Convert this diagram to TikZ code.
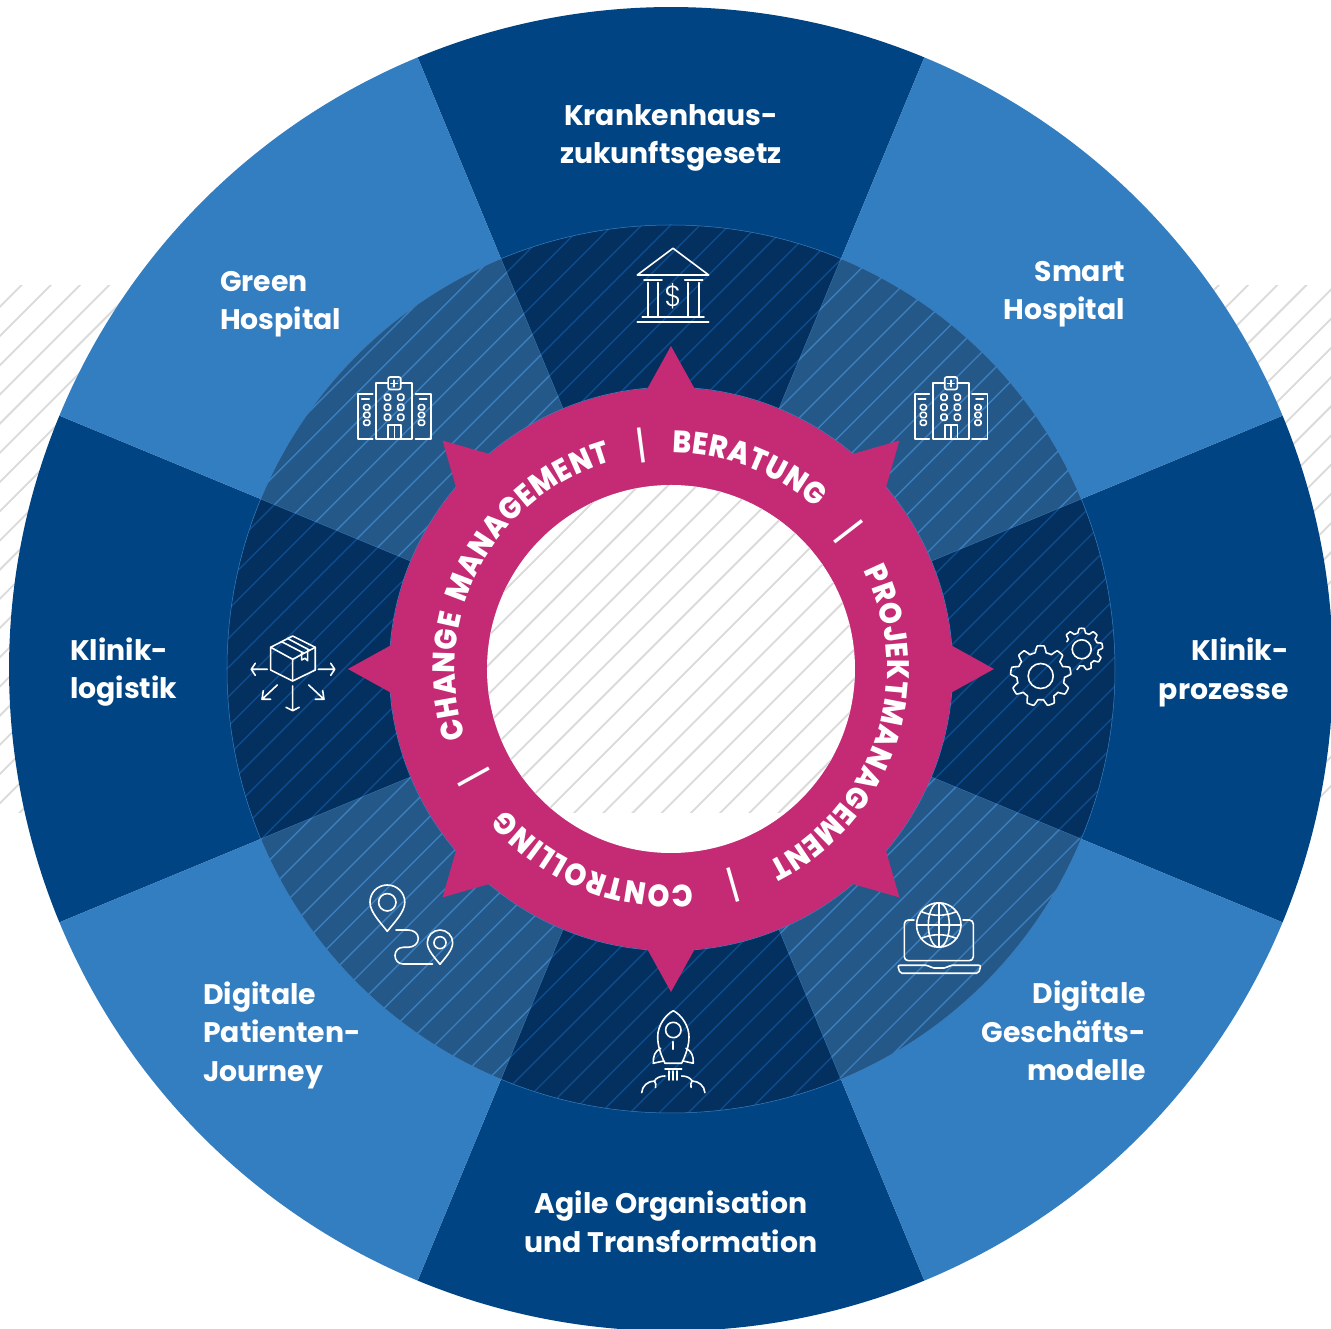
\documentclass[tikz,border=0pt]{standalone}
\usepackage{fontspec}
\usepackage{graphicx}
\newfontfamily\pop{Poppins}
\newfontfamily\popx{Poppins ExtraBold}
\newfontfamily\popl{Poppins Light}
\definecolor{wdark}{HTML}{004483}
\definecolor{wlight}{HTML}{337DC1}
\definecolor{rdark}{HTML}{03305F}
\definecolor{rlight}{HTML}{245888}
\definecolor{hdark}{HTML}{0E4C8E}
\definecolor{hlight}{HTML}{3B7FBE}
\definecolor{pinkc}{HTML}{C42B74}
\definecolor{hgrey}{HTML}{DADADA}
\newcommand{\hatchlines}[1]{\foreach \k in {0,...,63}{\pgfmathsetmacro\cc{#1+29.2*\k}\draw (\cc,0)--({\cc-1329},1329);}}
\newcommand{\sectorpath}[2]{(0,0)--(#1-22.5:#2) arc[start angle=#1-22.5,end angle=#1+22.5,radius=#2]--cycle}
\newcommand{\ringfont}{\popx\fontsize{31}{32}\selectfont}
\newcommand{\xsc}{0.9}
\newcommand{\rbase}{216}
\newbox\ltrbox
\newdimen\wtot
\newcounter{ringl}
\newcommand{\measureltr}[1]{\setbox\ltrbox\hbox{\pgfinterruptpicture\ringfont#1\endpgfinterruptpicture}}
\newcommand{\arcword}[3]{%
 \global\wtot=0pt \gdef\nlet{0}%
 \foreach \L in {#3}{\measureltr{\L}\global\advance\wtot by \wd\ltrbox
   \pgfmathtruncatemacro\nn{\nlet+1}\xdef\nlet{\nn}}%
 \pgfmathsetmacro\arclen{(#1-(#2))*pi/180*\rbase}%
 \pgfmathsetmacro\gapl{(\arclen-\xsc*\the\wtot)/(\nlet-1)}%
 \gdef\spos{0}%
 \foreach \L in {#3}{\measureltr{\L}%
   \pgfmathsetmacro\w{\xsc*\the\wd\ltrbox}%
   \pgfmathsetmacro\ang{#1-(\spos+\w/2)/\rbase*180/pi}%
   \stepcounter{ringl}%
   \node[ringlet,rotate=\ang-90] (rl\arabic{ringl}) at (\ang:\rbase) {\scalebox{\xsc}[1]{\ringfont\L}};
   \pgfmathsetmacro\np{\spos+\w+\gapl}\xdef\spos{\np}}%
}
\newcommand{\hosp}[1]{\begin{scope}[xshift=#1]
\draw[ic] (932.7,389)--(932.7,383.3)--(944.7,383.3) (957.3,383.3)--(968.7,383.3)--(968.7,439)--(932.7,439)--(932.7,389);
\draw[ic,rounded corners=2] (944.7,377) rectangle (957.3,389.5);
\draw[ic] (950.8,380.2)--(950.8,386.8) (947.5,383.5)--(954.1,383.5);
\draw[ic] (929.3,394)--(914.7,394)--(914.7,439)--(929.3,439) (972,394)--(987.3,394)--(987.3,439)--(972,439);
\draw[ic] (918.3,399.3)--(925.7,399.3) (976,399.3)--(983.3,399.3);
\foreach \wx in {944,957.3}\foreach \wy in {397.3,407.3,417.3}\draw[ic,rounded corners=1.5] (\wx-3,\wy-3) rectangle (\wx+3,\wy+3);
\foreach \wx in {923.3,978}\foreach \wy in {407.3,415,422.7}\draw[ic,rounded corners=1.5] (\wx-3,\wy-2.6) rectangle (\wx+3,\wy+2.6);
\draw[ic] (944.7,439)--(944.7,425)--(957.3,425)--(957.3,439) (951,425)--(951,439);
\end{scope}}
\tikzset{
 ic/.style={draw=white,line width=1.6pt,line join=round,line cap=round},
 lab/.style={text=white,font=\pop\bfseries\fontsize{28.3}{38.5}\selectfont,inner sep=0pt},
 sepmark/.style={text=white,font=\pop\fontsize{39}{39}\selectfont,inner sep=0pt},
 ringlet/.style={text=white,inner sep=0pt,anchor=base},
 img/.style={shift={(-671,669)},yscale=-1},
 declare function={clampc(\v)=max(-1,min(1,\v));}
}
\begin{document}
\begin{tikzpicture}[x=1pt,y=1pt]
\useasboundingbox (-671,-660) rectangle (660,669);
\clip (-671,-660) rectangle (660,669);
\fill[white] (-671,-660) rectangle (660,669);
% background hatching
\begin{scope}[img]
\clip (0,286) rectangle (1331,813);
\begin{scope}[draw=hgrey,line width=1.8pt]\hatchlines{306.7}\end{scope}
\end{scope}
% wheel
\foreach \a in {0,90,180,270}{\fill[wdark] \sectorpath{\a}{662};}
\foreach \a in {45,135,225,315}{\fill[wlight] \sectorpath{\a}{662};}
% ring
\foreach \a in {0,90,180,270}{
 \fill[rdark] \sectorpath{\a}{444};
 \begin{scope}\clip \sectorpath{\a}{444};
 \begin{scope}[img,draw=hdark,line width=1.4pt]\hatchlines{312}\end{scope}\end{scope}}
\foreach \a in {45,135,225,315}{
 \fill[rlight] \sectorpath{\a}{444};
 \begin{scope}\clip \sectorpath{\a}{444};
 \begin{scope}[img,draw=hlight,line width=1.4pt]\hatchlines{312}\end{scope}\end{scope}}
\foreach \a in {22.5,67.5,...,337.5}{\draw[hlight,line width=0.4pt,opacity=0.6] (\a:281)--(\a:444);}
\draw[hlight,line width=0.5pt] (0,0) circle[radius=444];
\draw[hlight,line width=0.8pt] (0,0) circle[radius=281.7];
% pink compass
\fill[pinkc] (0,0) circle[radius=281.5];
\foreach \a in {0,45,...,315}{\fill[pinkc] (\a-5:280)--(\a:323)--(\a+5:280)--cycle;}
% centre
\fill[white] (0,0) circle[radius=184];
\begin{scope}
\clip (0,0) circle[radius=184];
\begin{scope}[img]
\clip (0,286) rectangle (1331,813);
\begin{scope}[draw=hgrey,line width=1.8pt]\hatchlines{306.7}\end{scope}
\end{scope}
\end{scope}
% ring text
\arcword{198.4}{165.4}{C,H,A,N,G,E}
\arcword{162.5}{106}{M,A,N,A,G,E,M,E,N,T}
\arcword{89.6}{48}{B,E,R,A,T,U,N,G}
\arcword{27}{-63.5}{P,R,O,J,E,K,T,M,A,N,A,G,E,M,E,N,T}
\arcword{-84.3}{-139.6}{C,O,N,T,R,O,L,L,I,N,G}
\node[sepmark,rotate=7.5] (s1) at (97.5:225) {|};
\node[sepmark,rotate=-52.3] (s2) at (37.7:225) {|};
\node[sepmark,rotate=16] (s3) at (-74:225) {|};
\node[sepmark,rotate=-61.2] (s4) at (-151.2:225) {|};
\begin{scope}[img]
% labels
\node[lab,align=center] (l1) at (671,138) {Krankenhaus-\\zukunftsgesetz};
\node[lab,align=right,anchor=east] (l2) at (1125,294) {Smart\\Hospital};
\node[lab,align=left,anchor=west] (l3) at (220,304) {Green\\Hospital};
\node[lab,align=left,anchor=west] (l4) at (70,672) {Klinik-\\logistik};
\node[lab,align=right,anchor=east] (l5) at (1289,672.5) {Klinik-\\prozesse};
\node[lab,align=left,anchor=west] (l6) at (203,1035) {Digitale\\Patienten-\\Journey};
\node[lab,align=right,anchor=east] (l7) at (1146,1031) {Digitale\\Geschäfts-\\modelle};
\node[lab,align=center] (l8) at (671,1222) {Agile Organisation\\und Transformation};
% bank
\draw[ic] (637.3,275)--(673,248.3)--(708.7,275)--cycle;
\draw[ic] (644,280)--(662,280) (684.7,280)--(702.7,280);
\draw[ic] (648.3,282.7)--(648.3,316.7) (658.3,282.7)--(658.3,316.7) (688.3,282.7)--(688.3,316.7) (699,282.7)--(699,316.7);
\draw[ic] (642.3,317.3)--(704,317.3) (637.3,322.3)--(708.7,322.3);
\node[text=white,font=\popl\fontsize{29}{29}\selectfont,inner sep=0pt] (dollar) at (673,296) {\$};
% hospitals
\hosp{0pt}
\hosp{-556.5pt}
% box
\draw[ic] (292.7,636)--(315.3,647.3)--(315.3,670)--(292.7,681)--(270.7,670)--(270.7,647.3)--cycle;
\draw[ic] (270.7,647.3)--(292.7,659.3)--(315.3,647.3) (292.7,659.3)--(292.7,681);
\draw[ic] (281.7,641.7)--(304,653.3) (287.3,638.3)--(309.3,650);
\draw[ic] (301.7,653)--(301.7,660)--(305,658.3)--(307.7,660.7)--(307.7,650.7);
\draw[ic] (267.3,669.3)--(251.3,669.3) (255.3,663.3)--(251.3,669.3)--(255.3,675.3);
\draw[ic] (318.3,669.3)--(334.7,669.3) (330.7,663.3)--(334.7,669.3)--(330.7,675.3);
\draw[ic] (292.7,686)--(292.7,710.7) (286,707.3)--(292.7,710.7)--(299.3,707.3);
\draw[ic] (277.3,685)--(262,699.3) (263.3,690.7)--(262,699.3)--(270.7,699.3);
\draw[ic] (308.7,685)--(324,699.3) (322.7,690.7)--(324,699.3)--(315.3,699.3);
% gears
\draw[ic] plot[domain=0:360,samples=361,variable=\t] ({1040.7+(27+3.2*clampc(2*cos(9*(\t+90))))*cos(\t)},{676+(27+3.2*clampc(2*cos(9*(\t+90))))*sin(\t)});
\draw[ic] (1040.7,676) circle[radius=12.5];
\draw[ic] plot[domain=207:463,samples=257,variable=\t] ({1081.7+(18.8+2.2*clampc(2*cos(9*(\t+90))))*cos(\t)},{649.3+(18.8+2.2*clampc(2*cos(9*(\t+90))))*sin(\t)});
\draw[ic] (1081.7,649.3) circle[radius=9.5];
% route
\draw[ic] (387.3,931.3) .. controls (380,922) and (370,912) .. (370,902.3) .. controls (370,892.6) and (377.6,885) .. (387.3,885) .. controls (397,885) and (404.8,892.6) .. (404.8,902.3) .. controls (404.8,912) and (394.6,922) .. cycle;
\draw[ic] (387.3,902.3) circle[radius=8.7];
\draw[ic] (440,964.3) .. controls (435,958) and (427.3,950) .. (427.3,942.7) .. controls (427.3,935.7) and (433,930) .. (440,930) .. controls (447,930) and (452.7,935.7) .. (452.7,942.7) .. controls (452.7,950) and (445,958) .. cycle;
\draw[ic] (440,942.7) circle[radius=6];
\draw[ic] (396,930)--(408,930) .. controls (414,930) and (418.3,933.5) .. (418.3,938.5) .. controls (418.3,943.5) and (414,947.3) .. (408,947.3)--(403.3,947.3) .. controls (398.5,947.3) and (395,951) .. (395,955.5) .. controls (395,960.5) and (398.5,964) .. (403.3,964)--(432.7,964);
% rocket
\draw[ic] (665,1063.3) .. controls (660,1053) and (657.7,1045) .. (657.7,1036.7) .. controls (657.7,1026) and (665,1015) .. (673.3,1010.7) .. controls (681.6,1015) and (689,1026) .. (689,1036.7) .. controls (689,1045) and (686.6,1053) .. (681.7,1063.3)--cycle;
\draw[ic] (673.3,1030) circle[radius=7.7];
\draw[ic] (673.3,1041.7)--(673.3,1049.3);
\draw[ic] (660.7,1048.3) .. controls (655,1051) and (653,1056) .. (653.3,1063.3)--(663.5,1061);
\draw[ic] (685.9,1048.3) .. controls (691.6,1051) and (693.6,1056) .. (693.3,1063.3)--(683.1,1061);
\draw[ic] (665,1069.3)--(681.7,1069.3) (669.3,1071)--(669.3,1080) (673.3,1071)--(673.3,1080) (677.3,1071)--(677.3,1080);
\draw[ic] (641.7,1092.7) .. controls (642,1086) and (648,1081) .. (654.5,1081) .. controls (656,1083) and (656,1085) .. (655.5,1087.5);
\draw[ic] (654.5,1081) .. controls (656,1078) and (660,1076) .. (665,1076);
\draw[ic] (704.9,1092.7) .. controls (704.6,1086) and (698.6,1081) .. (692.1,1081) .. controls (690.6,1083) and (690.6,1085) .. (691.1,1087.5);
\draw[ic] (692.1,1081) .. controls (690.6,1078) and (686.6,1076) .. (681.6,1076);
% laptop
\draw[ic,rounded corners=4] (914,920)--(904.3,920)--(904.3,960.7)--(973.3,960.7)--(973.3,920)--(963,920);
\draw[ic,rounded corners=2] (897.7,965.3)--(928,965.3)--(932,968)--(946,968)--(950,965.3)--(981,965.3)--(978.5,973.3)--(900,973.3)--cycle;
\draw[ic] (938.8,925) circle[radius=22.2];
\draw[ic] (938.8,925) ellipse[x radius=10.5,y radius=22.2];
\draw[ic] (938.8,902.8)--(938.8,947.2) (916.6,925)--(961,925);
\draw[ic] (921,911.5) .. controls (932,916.5) and (945.6,916.5) .. (956.6,911.5);
\draw[ic] (921,938.5) .. controls (932,933.5) and (945.6,933.5) .. (956.6,938.5);
\end{scope}
\end{tikzpicture}
\end{document}
